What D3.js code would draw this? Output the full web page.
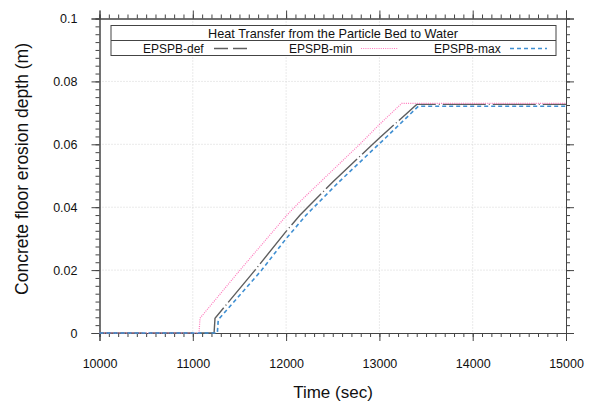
<!DOCTYPE html>
<html>
<head>
<meta charset="utf-8">
<script src="https://cdn.jsdelivr.net/npm/d3@7"></script>
<style>
  body { margin: 0; background: #fff; }
  svg { font-family: "Liberation Sans", Arial, sans-serif; }
</style>
</head>
<body>
<svg id="chart" width="595" height="405"></svg>
<script>
// Daten: Zeit (s) und Erosionstiefe (m)
const seriesNames = ["EPSPB-def", "EPSPB-min", "EPSPB-max"];
const defTime = [10000, 11228, 11238, 11667, 12000, 12150, 12500, 12928, 13000, 13400, 15000];
const defDepth = [0, 0, 0.0047, 0.02, 0.0323, 0.0375, 0.048, 0.06, 0.062, 0.0727, 0.0727];
const minTime = [10000, 11067, 11077, 11506, 12000, 12149, 12500, 12789, 13000, 13239, 15000];
const minDepth = [0, 0, 0.0047, 0.02, 0.0372, 0.0418, 0.0518, 0.06, 0.0663, 0.073, 0.073];
const maxTime = [10000, 11263, 11273, 11738, 12000, 12215, 12565, 12993, 13065, 13417, 15000];
const maxDepth = [0, 0, 0.0042, 0.02, 0.03, 0.0375, 0.048, 0.06, 0.062, 0.0721, 0.0721];
const xTicks = [10000, 11000, 12000, 13000, 14000, 15000];
const yTicks = [0, 0.02, 0.04, 0.06, 0.08, 0.1];
const legendTitle = "Heat Transfer from the Particle Bed to Water";

const svg = d3.select("#chart");
const pLeft = 99.5, pRight = 566, pTop = 18.5, pBottom = 333;

const x = d3.scaleLinear().domain([10000, 15000]).range([pLeft, pRight]);
const y = d3.scaleLinear().domain([0, 0.1]).range([pBottom, pTop]);

// Gitterlinien
const grid = svg.append("g").attr("stroke", "#d4d4d4").attr("stroke-dasharray", "1,2");
grid.selectAll(".gx").data(xTicks.slice(1, -1)).enter().append("line")
  .attr("x1", d => x(d)).attr("x2", d => x(d)).attr("y1", pTop).attr("y2", pBottom);
grid.selectAll(".gy").data(yTicks.slice(1, -1)).enter().append("line")
  .attr("y1", d => y(d)).attr("y2", d => y(d)).attr("x1", pLeft).attr("x2", pRight);

// Achsen (Ticks nach aussen auf allen vier Seiten)
const xMinor = d3.range(10000, 15001, 100);
const yMinor = d3.range(0, 0.1001, 0.0025);
const axisColor = "#444";

function styleAxis(g) {
  g.select(".domain").attr("stroke", axisColor);
  g.selectAll(".tick line").attr("stroke", axisColor);
  g.selectAll("text").attr("fill", "#111").style("font-size", "12.5px")
    .style("font-family", "'Liberation Sans', Arial, sans-serif");
}

svg.append("g").attr("transform", `translate(0,${pBottom})`)
  .call(d3.axisBottom(x).tickValues(xMinor).tickSize(4).tickFormat("")).call(styleAxis);
svg.append("g").attr("transform", `translate(0,${pBottom})`)
  .call(d3.axisBottom(x).tickValues(xTicks).tickSize(8).tickPadding(18).tickFormat(d3.format("d")))
  .call(styleAxis);

svg.append("g").attr("transform", `translate(0,${pTop})`)
  .call(d3.axisTop(x).tickValues(xMinor).tickSize(4).tickFormat("")).call(styleAxis);
svg.append("g").attr("transform", `translate(0,${pTop})`)
  .call(d3.axisTop(x).tickValues(xTicks).tickSize(8).tickFormat("")).call(styleAxis);

svg.append("g").attr("transform", `translate(${pLeft},0)`)
  .call(d3.axisLeft(y).tickValues(yMinor).tickSize(4).tickFormat("")).call(styleAxis);
svg.append("g").attr("transform", `translate(${pLeft},0)`)
  .call(d3.axisLeft(y).tickValues(yTicks).tickSize(8).tickPadding(14).tickFormat(d => d === 0 ? "0" : d3.format("~g")(d)))
  .call(styleAxis);

svg.append("g").attr("transform", `translate(${pRight},0)`)
  .call(d3.axisRight(y).tickValues(yMinor).tickSize(4).tickFormat("")).call(styleAxis);
svg.append("g").attr("transform", `translate(${pRight},0)`)
  .call(d3.axisRight(y).tickValues(yTicks).tickSize(8).tickFormat("")).call(styleAxis);

// Kurven
const series = [
  { name: seriesNames[0], t: defTime, v: defDepth, color: "#5e5e5e", width: 1.4, dash: "43,3,1,3", sample: "14,5" },
  { name: seriesNames[1], t: minTime, v: minDepth, color: "#ff78bc", width: 1.2, dash: "1,1.2", sample: "1,1.2" },
  { name: seriesNames[2], t: maxTime, v: maxDepth, color: "#3f8fd2", width: 1.6, dash: "4,3", sample: "4,3" }
];

const line = d3.line().x(d => x(d[0])).y(d => y(d[1]));
svg.append("g").selectAll("path").data(series).enter().append("path")
  .attr("d", s => line(s.t.map((t, i) => [t, s.v[i]])))
  .attr("fill", "none")
  .attr("stroke", s => s.color)
  .attr("stroke-width", s => s.width)
  .attr("stroke-dasharray", s => s.dash);

// Legende
const lg = svg.append("g");
lg.append("rect").attr("x", 111).attr("y", 25.5).attr("width", 445).attr("height", 30)
  .attr("fill", "#fff").attr("stroke", "#444");
lg.append("line").attr("x1", 111).attr("x2", 556).attr("y1", 40.5).attr("y2", 40.5).attr("stroke", "#444");
lg.append("text").attr("x", 333).attr("y", 37.5).attr("text-anchor", "middle")
  .style("font-size", "12.7px").attr("fill", "#111").text(legendTitle);

const entryX = [143, 289, 434];
const sampleX = [214, 361, 510];
const sampleW = [35, 37, 37];
series.forEach((s, i) => {
  lg.append("text").attr("x", entryX[i]).attr("y", 52.5).style("font-size", "12px")
    .attr("fill", "#111").text(s.name);
  lg.append("line").attr("x1", sampleX[i]).attr("x2", sampleX[i] + sampleW[i])
    .attr("y1", 48.5).attr("y2", 48.5)
    .attr("stroke", s.color).attr("stroke-width", s.width).attr("stroke-dasharray", s.sample);
});

// Achsentitel
svg.append("text").attr("x", 333).attr("y", 398).attr("text-anchor", "middle")
  .style("font-size", "17px").attr("fill", "#111").text("Time (sec)");
svg.append("text").attr("transform", "translate(28,169) rotate(-90)").attr("text-anchor", "middle")
  .style("font-size", "17.5px").attr("fill", "#111").text("Concrete floor erosion depth (m)");
</script>
</body>
</html>
